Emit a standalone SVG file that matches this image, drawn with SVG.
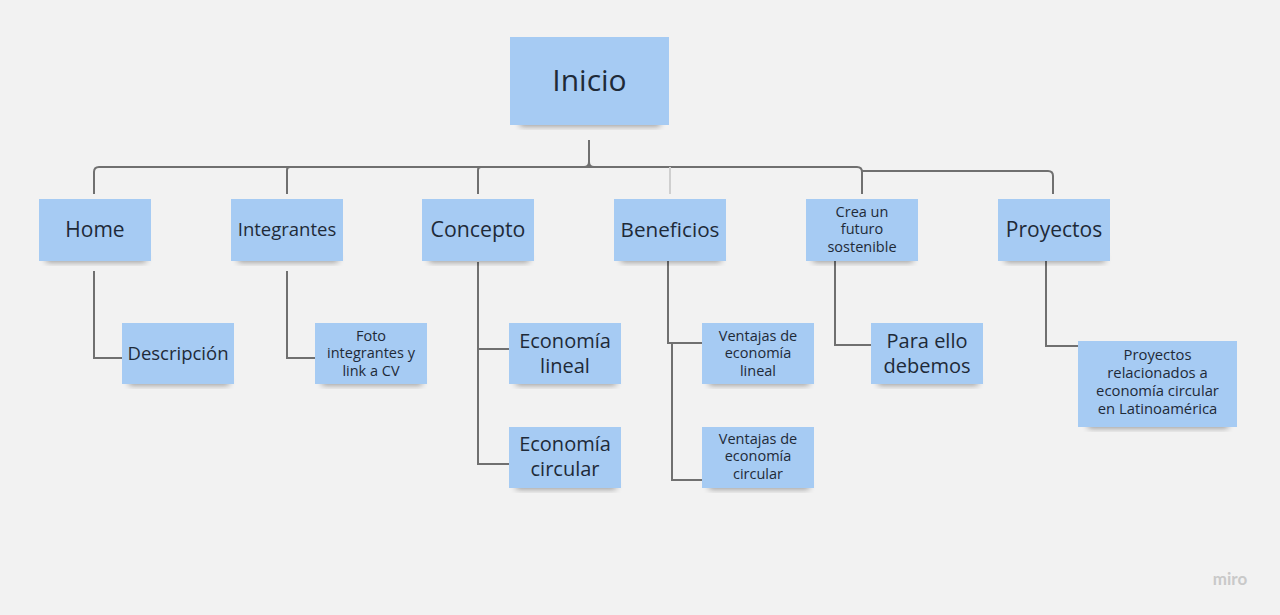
<svg xmlns="http://www.w3.org/2000/svg" width="1280" height="615" viewBox="0 0 1280 615">
<defs>
<filter id="sh" x="-20%" y="-50%" width="140%" height="200%"><feGaussianBlur stdDeviation="3"/></filter>
<style>
.n{fill:#a6cbf3}
.s{fill:#000;opacity:0.4;filter:url(#sh)}
.t{font-family:"Open Sans","Noto Sans",sans-serif;fill:#1e2a38;text-anchor:middle}
.c{fill:none;stroke:#707070;stroke-width:2}
.cl{fill:none;stroke:#cfcfcf;stroke-width:2}
</style>
</defs>
<rect width="1280" height="615" fill="#f2f2f2"/>
<g id="connectors">
<path class="c" d="M589,140 V162 Q589,167 584,167 M589,162 Q589,167 594,167"/>
<path class="c" d="M94,194 V172 Q94,167 99,167 H857 Q862,167 862,172 V194"/>
<path class="c" d="M862,171 H1048 Q1053,171 1053,176 V194"/>
<path class="c" d="M287,194 V170 Q287,167 290,167"/>
<path class="c" d="M478,194 V170 Q478,167 481,167"/>
<path class="cl" d="M670,194 V167"/>
<path class="c" d="M94,271 V358 H122"/>
<path class="c" d="M287,271 V358 H315"/>
<path class="c" d="M478,262 V464 H509 M478,349 H509"/>
<path class="c" d="M668,259 V343 H702 M672,343 V480 H702"/>
<path class="c" d="M835,261 V345 H871"/>
<path class="c" d="M1046,261 V346 H1078"/>
</g>
<g id="inicio"><rect class="s" x="520" y="118" width="140" height="8"/><rect class="n" x="510" y="37" width="159" height="88"/><text class="t" x="589.5" y="91" font-size="30">Inicio</text></g>
<g id="home"><rect class="s" x="46" y="255" width="100" height="7"/><rect class="n" x="39" y="199" width="112" height="62"/><text class="t" x="95" y="237" font-size="21">Home</text></g>
<g id="integrantes"><rect class="s" x="238" y="255" width="100" height="7"/><rect class="n" x="231" y="199" width="112" height="62"/><text class="t" x="287" y="236" font-size="18.5">Integrantes</text></g>
<g id="concepto"><rect class="s" x="429" y="255" width="100" height="7"/><rect class="n" x="422" y="199" width="112" height="62"/><text class="t" x="478" y="237" font-size="21.3">Concepto</text></g>
<g id="beneficios"><rect class="s" x="621" y="255" width="100" height="7"/><rect class="n" x="614" y="199" width="112" height="62"/><text class="t" x="670" y="237" font-size="20.7">Beneficios</text></g>
<g id="crea"><rect class="s" x="813" y="255" width="100" height="7"/><rect class="n" x="806" y="199" width="112" height="62"/><text class="t" font-size="14.5"><tspan x="862" y="217">Crea un</tspan><tspan x="862" y="234">futuro</tspan><tspan x="862" y="251.5">sostenible</tspan></text></g>
<g id="proyectos"><rect class="s" x="1005" y="255" width="100" height="7"/><rect class="n" x="998" y="199" width="112" height="62"/><text class="t" x="1054" y="237" font-size="21">Proyectos</text></g>
<g id="descripcion"><rect class="s" x="129" y="378" width="100" height="7"/><rect class="n" x="122" y="323" width="112" height="61"/><text class="t" x="178" y="359.5" font-size="18.5">Descripción</text></g>
<g id="foto"><rect class="s" x="322" y="378" width="100" height="7"/><rect class="n" x="315" y="323" width="112" height="61"/><text class="t" font-size="14.5"><tspan x="371" y="340.5">Foto</tspan><tspan x="371" y="358">integrantes y</tspan><tspan x="371" y="375.5">link a CV</tspan></text></g>
<g id="eco-lineal"><rect class="s" x="516" y="378" width="100" height="7"/><rect class="n" x="509" y="323" width="112" height="61"/><text class="t" font-size="20"><tspan x="565" y="348">Economía</tspan><tspan x="565" y="372.5">lineal</tspan></text></g>
<g id="eco-circular"><rect class="s" x="516" y="482" width="100" height="7"/><rect class="n" x="509" y="427" width="112" height="61"/><text class="t" font-size="20"><tspan x="565" y="451">Economía</tspan><tspan x="565" y="475.5">circular</tspan></text></g>
<g id="ventajas-lineal"><rect class="s" x="709" y="378" width="100" height="7"/><rect class="n" x="702" y="323" width="112" height="61"/><text class="t" font-size="14.5"><tspan x="758" y="340.5">Ventajas de</tspan><tspan x="758" y="358">economía</tspan><tspan x="758" y="375.5">lineal</tspan></text></g>
<g id="ventajas-circular"><rect class="s" x="709" y="482" width="100" height="7"/><rect class="n" x="702" y="427" width="112" height="61"/><text class="t" font-size="14.5"><tspan x="758" y="443.5">Ventajas de</tspan><tspan x="758" y="461">economía</tspan><tspan x="758" y="478.5">circular</tspan></text></g>
<g id="para-ello"><rect class="s" x="878" y="378" width="100" height="7"/><rect class="n" x="871" y="323" width="112" height="61"/><text class="t" font-size="20"><tspan x="927" y="348">Para ello</tspan><tspan x="927" y="372.5">debemos</tspan></text></g>
<g id="proyectos-rel"><rect class="s" x="1088" y="420" width="140" height="8"/><rect class="n" x="1078" y="341" width="159" height="86"/><text class="t" font-size="14.8"><tspan x="1157.5" y="360">Proyectos</tspan><tspan x="1157.5" y="378">relacionados a</tspan><tspan x="1157.5" y="396">economía circular</tspan><tspan x="1157.5" y="414">en Latinoamérica</tspan></text></g>
<text x="1230" y="585" font-family="Lato,'Open Sans',sans-serif" font-size="17" font-weight="bold" fill="#c9c9c9" text-anchor="middle">miro</text>
</svg>
